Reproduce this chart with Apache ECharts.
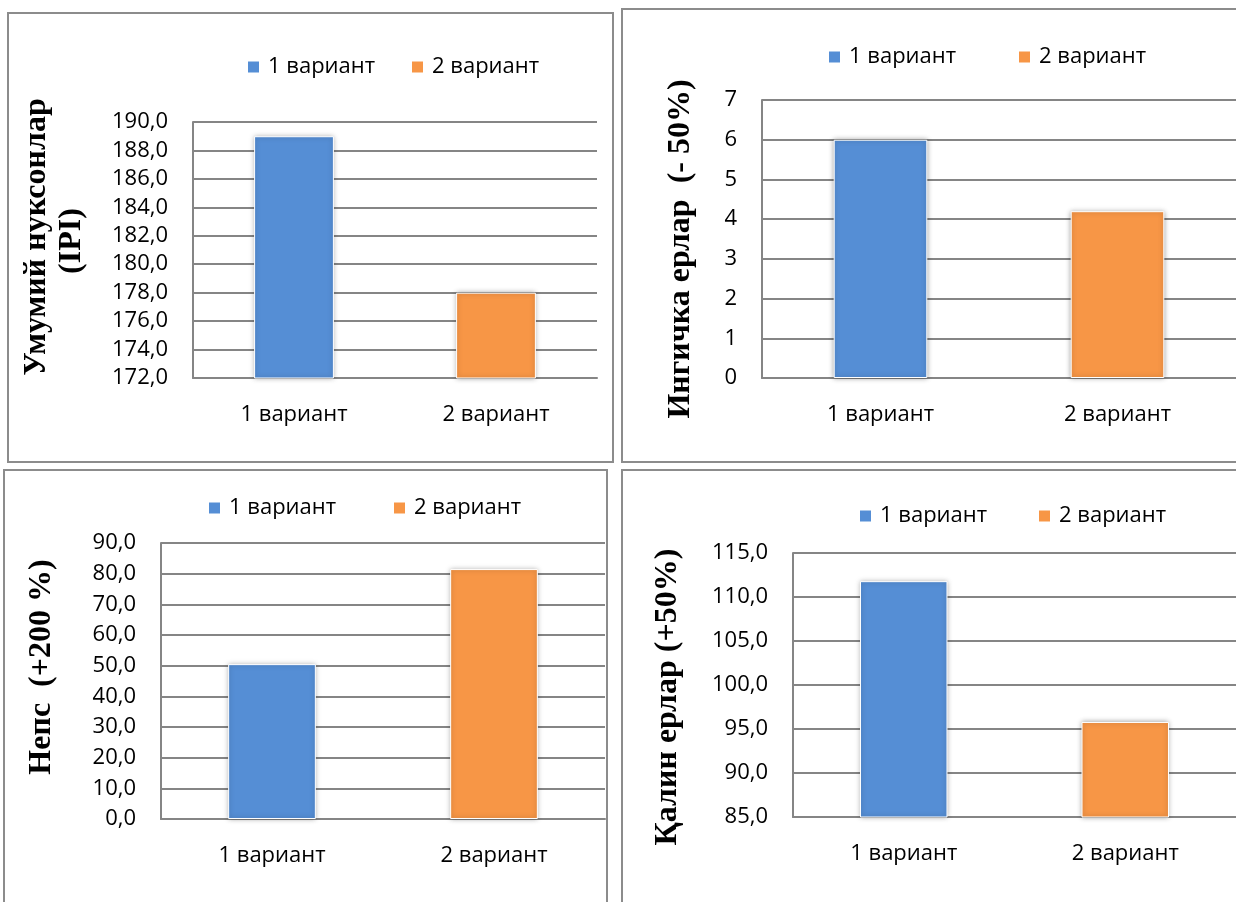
<!DOCTYPE html>
<html>
<head>
<meta charset="utf-8">
<script src="https://cdn.jsdelivr.net/npm/echarts@6/dist/echarts.min.js"></script>
<style>
  html, body { margin: 0; padding: 0; background: #fff; }
  #chart { width: 1236px; height: 902px; }
</style>
</head>
<body>
<div id="chart"></div>
<script>
// Variants compared in every panel
const categories = ['1 вариант', '2 вариант'];
const variantColors = ['#558ED5', '#F79646'];

// Values per indicator
const totalDefects = [189.0, 178.0];   // Умумий нуксонлар (IPI)
const thinPlaces = [6.0, 4.2];         // Ингичка ерлар (-50%)
const neps = [50.5, 81.5];             // Непс (+200 %)
const thickPlaces = [111.8, 95.8];     // Қалин ерлар (+50%)

// Value-axis scales: [min, max, interval]
const totalDefectsAxis = [172, 190, 2];
const thinPlacesAxis = [0, 7, 1];
const nepsAxis = [0, 90, 10];
const thickPlacesAxis = [85, 115, 5];

const LABEL_FONT = '"Open Sans", "Noto Sans", sans-serif';
const LABEL_SIZE = 22;
const TITLE_FONT = '"Liberation Serif", "Times New Roman", serif';
const GRID_GRAY = '#858585';

const panels = [
  { values: totalDefects, axis: totalDefectsAxis, decimals: 1,
    grid: { left: 193, top: 122, width: 404, height: 256 },
    legend: [{ left: 246, top: 54 }, { left: 410, top: 54 }] },
  { values: thinPlaces, axis: thinPlacesAxis, decimals: 0,
    grid: { left: 762, top: 100, width: 478, height: 278 },
    legend: [{ left: 827, top: 44 }, { left: 1017, top: 44 }] },
  { values: neps, axis: nepsAxis, decimals: 1,
    grid: { left: 161, top: 543, width: 444, height: 276 },
    legend: [{ left: 207, top: 495 }, { left: 392, top: 495 }] },
  { values: thickPlaces, axis: thickPlacesAxis, decimals: 1,
    grid: { left: 793, top: 553, width: 449, height: 264 },
    legend: [{ left: 858, top: 503 }, { left: 1037, top: 503 }] }
];

const grids = [], xAxes = [], yAxes = [], series = [], legends = [];

panels.forEach((p, pi) => {
  grids.push(Object.assign({ containLabel: false }, p.grid));
  xAxes.push({
    type: 'category', gridIndex: pi, data: categories,
    axisTick: { show: false },
    axisLine: { lineStyle: { color: GRID_GRAY, width: 2 } },
    axisLabel: { color: '#000', fontFamily: LABEL_FONT, fontSize: LABEL_SIZE, margin: 26 }
  });
  yAxes.push({
    type: 'value', gridIndex: pi,
    min: p.axis[0], max: p.axis[1], interval: p.axis[2],
    axisLine: { show: true, lineStyle: { color: GRID_GRAY, width: 2 } },
    axisTick: { show: false },
    splitLine: { lineStyle: { color: GRID_GRAY, width: 2 } },
    axisLabel: {
      color: '#000', fontFamily: LABEL_FONT, fontSize: LABEL_SIZE, margin: 25,
      formatter: v => v.toFixed(p.decimals).replace('.', ',')
    }
  });
  categories.forEach((name, si) => {
    series.push({
      type: 'bar', name: name,
      xAxisIndex: pi, yAxisIndex: pi,
      barWidth: '39.5%', barGap: '-100%',
      data: p.values.map((v, j) => (j === si ? v : '-')),
      itemStyle: {
        color: variantColors[si], borderColor: '#ffffff', borderWidth: 1,
        shadowBlur: 5, shadowColor: 'rgba(0,0,0,0.35)'
      },
      emphasis: { disabled: true }
    });
    legends.push({
      data: [name], left: p.legend[si].left, top: p.legend[si].top,
      padding: 0, icon: 'rect', itemWidth: 13, itemHeight: 13,
      selectedMode: false,
      textStyle: { color: '#000', fontFamily: LABEL_FONT, fontSize: LABEL_SIZE, lineHeight: 26, padding: [0, 0, 0, 3] }
    });
  });
});

// Panel frames
const frame = (x, y, w, h) => ({
  type: 'rect', silent: true, z: 0,
  shape: { x: x, y: y, width: w, height: h },
  style: { fill: 'none', stroke: '#8c8c8c', lineWidth: 2 }
});

// Rotated axis titles
const title = (text, x, y) => ({
  type: 'text', x: x, y: y, rotation: Math.PI / 2, silent: true,
  style: {
    text: text, fill: '#000', font: 'bold 32px ' + TITLE_FONT,
    align: 'center', verticalAlign: 'middle'
  }
});

const option = {
  backgroundColor: '#ffffff',
  animation: false,
  grid: grids, xAxis: xAxes, yAxis: yAxes, series: series, legend: legends,
  graphic: [
    frame(8, 13, 605, 449),
    frame(622, 9, 640, 453),
    frame(4, 470, 603, 460),
    frame(622, 470, 640, 460),
    title('Умумий нуксонлар', 37, 237),
    title('(IPI)', 72, 241),
    title('Ингичка ерлар  (- 50%)', 681, 249),
    title('Непс  (+200 %)', 42, 667),
    title('Қалин ерлар (+50%)', 668, 697)
  ]
};

const chart = echarts.init(document.getElementById('chart'), null, { renderer: 'canvas' });
chart.setOption(option);
</script>
</body>
</html>
